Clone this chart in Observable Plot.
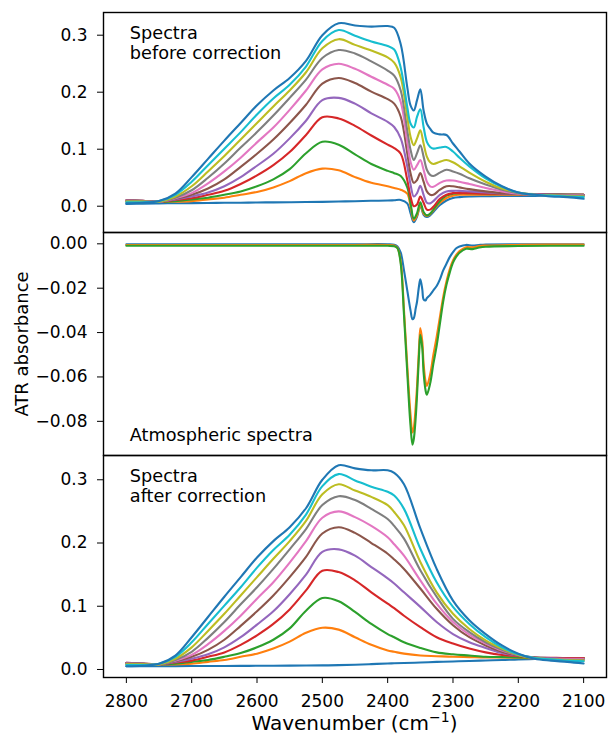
<!DOCTYPE html>
<html><head><meta charset="utf-8">
<script src="https://cdn.jsdelivr.net/npm/d3@7"></script>
<script src="https://cdn.jsdelivr.net/npm/@observablehq/plot@0.6"></script>
<style>
body{margin:0;background:#fff;}
#chart{position:relative;width:608px;height:735px;font-family:"DejaVu Sans";color:#000;}
#chart svg{position:absolute;left:0;overflow:visible;}
#xlabel{position:absolute;left:103px;width:503px;text-align:center;top:713px;font-size:20px;line-height:20px;white-space:nowrap;}
#xlabel sup{font-size:14px;line-height:0;vertical-align:8px;}
</style></head>
<body><div id="chart"></div>
<script>
// ---- wavenumber grids (cm^-1) ----
const wnAfter = [2800,2775,2750,2725,2700,2675,2650,2625,2600,2575,2550,2525,2500,2475,2450,2425,2400,2390,2375,2350,2325,2300,2275,2250,2225,2200,2175,2150,2125,2100];
const wnBefore = [2800,2775,2750,2725,2700,2675,2650,2625,2600,2575,2550,2525,2500,2475,2450,2425,2400,2390,2380,2370,2365,2360,2355,2350,2345,2340,2335,2330,2320,2310,2300,2290,2275,2250,2225,2200,2175,2150,2125,2100];
const wnAtm = [2800,2700,2600,2500,2450,2400,2390,2385,2380,2375,2370,2365,2362,2360,2357,2355,2352,2350,2347,2345,2342,2340,2335,2330,2325,2320,2315,2310,2305,2300,2295,2290,2280,2270,2260,2250,2200,2150,2100];

// ---- spectra before correction ----
const before0 = [0.004,0.0045,0.005,0.0052,0.0055,0.0057,0.006,0.0062,0.0065,0.0068,0.007,0.0073,0.0077,0.0082,0.0088,0.0095,0.010,0.0105,0.011,0.005,-0.012,-0.028,-0.018,0.001,-0.015,-0.019,-0.016,-0.010,0.002,0.010,0.0145,0.016,0.017,0.0175,0.018,0.018,0.018,0.0185,0.0185,0.019];
const before1 = [0.009,0.0085,0.008,0.008,0.009,0.012,0.015,0.020,0.025,0.033,0.044,0.058,0.066,0.063,0.051,0.041,0.035,0.032,0.029,0.022,0.000,-0.025,-0.016,0.003,-0.013,-0.017,-0.014,-0.007,0.006,0.0145,0.0185,0.020,0.020,0.020,0.020,0.020,0.020,0.020,0.020,0.020];
const before2 = [0.010,0.009,0.008,0.009,0.012,0.015,0.020,0.026,0.035,0.047,0.065,0.093,0.113,0.108,0.091,0.074,0.062,0.058,0.053,0.033,0.006,-0.022,-0.012,0.007,-0.010,-0.016,-0.013,-0.006,0.009,0.0185,0.022,0.023,0.023,0.0225,0.022,0.022,0.0215,0.021,0.0205,0.020];
const before3 = [0.0105,0.0095,0.008,0.011,0.014,0.020,0.027,0.039,0.054,0.072,0.095,0.125,0.156,0.154,0.141,0.124,0.108,0.102,0.092,0.046,0.017,0.000,0.003,0.017,0.006,-0.006,-0.006,-0.001,0.013,0.020,0.023,0.023,0.023,0.022,0.022,0.0215,0.021,0.0205,0.020,0.020];
const before4 = [0.0105,0.0095,0.008,0.012,0.017,0.024,0.035,0.051,0.071,0.092,0.119,0.150,0.186,0.190,0.180,0.163,0.148,0.139,0.119,0.070,0.038,0.017,0.023,0.036,0.020,0.006,0.005,0.009,0.020,0.026,0.027,0.027,0.026,0.024,0.0225,0.0215,0.021,0.0205,0.020,0.020];
const before5 = [0.010,0.0095,0.008,0.013,0.020,0.031,0.047,0.069,0.092,0.117,0.146,0.178,0.215,0.225,0.216,0.201,0.188,0.180,0.157,0.093,0.058,0.041,0.046,0.058,0.043,0.026,0.020,0.020,0.029,0.035,0.035,0.033,0.030,0.026,0.023,0.0215,0.020,0.020,0.020,0.020];
const before6 = [0.0095,0.009,0.008,0.014,0.023,0.040,0.061,0.085,0.112,0.138,0.169,0.203,0.240,0.250,0.241,0.227,0.213,0.206,0.183,0.113,0.078,0.064,0.072,0.081,0.064,0.043,0.035,0.034,0.041,0.045,0.045,0.043,0.039,0.032,0.026,0.022,0.020,0.019,0.019,0.019];
const before7 = [0.009,0.009,0.008,0.015,0.028,0.050,0.075,0.103,0.130,0.159,0.190,0.222,0.260,0.274,0.268,0.254,0.238,0.229,0.203,0.133,0.099,0.081,0.093,0.107,0.087,0.064,0.055,0.053,0.059,0.064,0.061,0.057,0.049,0.038,0.029,0.023,0.020,0.019,0.0185,0.0185];
const before8 = [0.008,0.008,0.008,0.017,0.035,0.061,0.088,0.117,0.146,0.175,0.203,0.235,0.277,0.293,0.283,0.273,0.261,0.252,0.226,0.157,0.122,0.107,0.119,0.133,0.110,0.087,0.077,0.074,0.078,0.081,0.077,0.070,0.059,0.043,0.031,0.024,0.020,0.019,0.018,0.017];
const before9 = [0.007,0.007,0.009,0.020,0.043,0.072,0.101,0.130,0.161,0.189,0.213,0.245,0.290,0.309,0.299,0.289,0.281,0.275,0.243,0.174,0.145,0.138,0.157,0.170,0.139,0.113,0.104,0.101,0.103,0.104,0.096,0.085,0.070,0.049,0.034,0.024,0.020,0.0185,0.017,0.016];
const before10 = [0.005,0.006,0.009,0.022,0.051,0.083,0.115,0.146,0.177,0.203,0.225,0.255,0.300,0.321,0.317,0.315,0.316,0.313,0.284,0.209,0.177,0.168,0.186,0.205,0.168,0.145,0.136,0.129,0.126,0.125,0.110,0.096,0.075,0.052,0.035,0.024,0.020,0.017,0.016,0.013];

// ---- atmospheric spectra ----
const atm0 = [-0.0002,-0.0002,-0.0002,-0.0002,-0.0002,-0.0002,-0.0004,-0.0012,-0.004,-0.012,-0.021,-0.030,-0.034,-0.0335,-0.029,-0.026,-0.019,-0.016,-0.0205,-0.025,-0.0255,-0.0245,-0.023,-0.021,-0.019,-0.016,-0.012,-0.009,-0.006,-0.0038,-0.002,-0.0012,-0.0005,-0.0008,-0.0005,-0.0003,-0.0002,-0.0002,-0.0002];
const atm1 = [-0.0005,-0.0005,-0.0005,-0.0005,-0.0005,-0.0005,-0.0007,-0.0018,-0.008,-0.030,-0.055,-0.077,-0.085,-0.083,-0.073,-0.064,-0.047,-0.038,-0.044,-0.054,-0.062,-0.064,-0.059,-0.050,-0.042,-0.033,-0.024,-0.017,-0.0115,-0.0075,-0.005,-0.0033,-0.0015,-0.0016,-0.001,-0.0008,-0.0005,-0.0003,-0.0003];
const atm2 = [-0.0009,-0.0009,-0.0009,-0.0009,-0.0009,-0.0009,-0.0011,-0.002,-0.009,-0.032,-0.058,-0.082,-0.0905,-0.088,-0.078,-0.068,-0.050,-0.041,-0.047,-0.058,-0.066,-0.068,-0.063,-0.054,-0.046,-0.036,-0.026,-0.0185,-0.013,-0.0085,-0.0058,-0.004,-0.0022,-0.0024,-0.0017,-0.0013,-0.001,-0.0009,-0.0009];

// ---- spectra after correction ----
const after0 = [0.005,0.005,0.0052,0.0053,0.0054,0.0055,0.0056,0.0057,0.0058,0.006,0.0061,0.0062,0.0064,0.0068,0.0075,0.0085,0.0095,0.0098,0.0103,0.011,0.012,0.0127,0.0135,0.0143,0.015,0.016,0.0165,0.017,0.0175,0.018];
const after1 = [0.009,0.0085,0.008,0.008,0.009,0.012,0.015,0.020,0.025,0.033,0.044,0.058,0.066,0.063,0.051,0.039,0.030,0.028,0.025,0.022,0.021,0.020,0.0195,0.019,0.019,0.0185,0.018,0.018,0.018,0.018];
const after2 = [0.010,0.009,0.008,0.009,0.012,0.015,0.020,0.026,0.035,0.047,0.065,0.093,0.113,0.108,0.091,0.072,0.056,0.051,0.043,0.034,0.027,0.024,0.022,0.020,0.0195,0.019,0.0185,0.018,0.018,0.018];
const after3 = [0.0105,0.0095,0.008,0.011,0.014,0.020,0.027,0.039,0.054,0.072,0.095,0.125,0.156,0.154,0.141,0.122,0.104,0.097,0.085,0.067,0.051,0.041,0.033,0.027,0.023,0.021,0.019,0.0185,0.018,0.018];
const after4 = [0.0105,0.0095,0.008,0.012,0.017,0.024,0.035,0.051,0.071,0.092,0.119,0.150,0.186,0.190,0.180,0.162,0.144,0.136,0.122,0.099,0.075,0.056,0.043,0.034,0.026,0.022,0.019,0.018,0.017,0.017];
const after5 = [0.010,0.0095,0.008,0.013,0.020,0.031,0.047,0.069,0.092,0.117,0.146,0.178,0.215,0.225,0.216,0.200,0.183,0.174,0.159,0.128,0.096,0.070,0.051,0.038,0.028,0.022,0.019,0.017,0.0165,0.016];
const after6 = [0.0095,0.009,0.008,0.014,0.023,0.040,0.061,0.085,0.112,0.138,0.169,0.203,0.240,0.250,0.241,0.227,0.209,0.198,0.180,0.141,0.104,0.075,0.055,0.041,0.030,0.023,0.018,0.0165,0.016,0.016];
const after7 = [0.009,0.009,0.008,0.015,0.028,0.050,0.075,0.103,0.130,0.159,0.190,0.222,0.260,0.274,0.268,0.254,0.238,0.227,0.207,0.157,0.115,0.080,0.059,0.043,0.031,0.023,0.018,0.016,0.015,0.015];
const after8 = [0.008,0.008,0.008,0.017,0.035,0.061,0.088,0.117,0.146,0.175,0.203,0.235,0.277,0.293,0.283,0.273,0.260,0.249,0.228,0.170,0.122,0.088,0.064,0.046,0.033,0.023,0.018,0.016,0.015,0.014];
const after9 = [0.007,0.007,0.009,0.020,0.043,0.072,0.101,0.130,0.161,0.189,0.213,0.245,0.290,0.309,0.299,0.289,0.281,0.275,0.254,0.191,0.138,0.099,0.072,0.051,0.035,0.024,0.018,0.016,0.014,0.013];
const after10 = [0.005,0.006,0.009,0.022,0.051,0.083,0.115,0.146,0.177,0.203,0.225,0.255,0.300,0.323,0.318,0.315,0.315,0.311,0.293,0.223,0.159,0.109,0.078,0.056,0.038,0.025,0.017,0.014,0.012,0.0095];

// ---- ticks and labels ----
const xTicks = [2800,2700,2600,2500,2400,2300,2200,2100];
const yTicksBefore = [0, 0.1, 0.2, 0.3];
const yTicksAtm = [0, -0.02, -0.04, -0.06, -0.08];
const yTicksAfter = [0, 0.1, 0.2, 0.3];
const labelBefore = "Spectra\nbefore correction";
const labelAtm = "Atmospheric spectra";
const labelAfter = "Spectra\nafter correction";
const yLabel = "ATR absorbance";

const COLORS = ["#1f77b4","#ff7f0e","#2ca02c","#d62728","#9467bd","#8c564b","#e377c2","#7f7f7f","#bcbd22","#17becf","#1f77b4"];
const X_DOMAIN = [2835, 2065];
const STYLE = {fontFamily: "DejaVu Sans", fontSize: "17px", background: "none", overflow: "visible", color: "black"};

function lines(wn, series) {
  return series.map((vals, i) => Plot.line(
    wn.map((w, j) => ({wn: w, v: vals[j]})),
    {x: "wn", y: "v", stroke: COLORS[i], strokeWidth: 2.1, curve: "catmull-rom"}
  ));
}
function note(txt, anchor, dy) {
  return Plot.text([txt], {text: d => d, frameAnchor: anchor, dx: 26.3, dy, textAnchor: "start",
    lineAnchor: "top", lineHeight: 1.13, fontSize: 17.7, fill: "black"});
}
const frame = () => Plot.frame({stroke: "black", strokeWidth: 1.4});

const p1 = Plot.plot({
  width: 608, height: 232, marginTop: 12, marginBottom: 0, marginLeft: 103, marginRight: 2,
  style: STYLE,
  x: {domain: X_DOMAIN, axis: null},
  y: {domain: [-0.0461, 0.3398], axis: null},
  marks: [
    ...lines(wnBefore, [before0,before1,before2,before3,before4,before5,before6,before7,before8,before9,before10]),
    Plot.axisY(yTicksBefore, {tickSize: 6, tickPadding: 10, tickFormat: d3.format(".1f"), label: null}),
    frame(),
    note(labelBefore, "top-left", 12.1)
  ]
});

const p2 = Plot.plot({
  width: 608, height: 223, marginTop: 0, marginBottom: 0, marginLeft: 103, marginRight: 2,
  style: STYLE,
  x: {domain: X_DOMAIN, axis: null},
  y: {domain: [-0.0954, 0.0051], axis: null},
  marks: [
    ...lines(wnAtm, [atm0, atm1, atm2]),
    Plot.axisY(yTicksAtm, {tickSize: 6, tickPadding: 10, tickFormat: d3.format(".2f"), label: null}),
    frame(),
    note(labelAtm, "bottom-left", -28.3),
    Plot.text([yLabel], {text: d => d, frameAnchor: "left", dx: -81, rotate: -90, textAnchor: "middle",
      lineAnchor: "middle", fontSize: 18, fill: "black"})
  ]
});

const p3 = Plot.plot({
  width: 608, height: 280, marginTop: 0, marginBottom: 58, marginLeft: 103, marginRight: 2,
  style: STYLE,
  x: {domain: X_DOMAIN, axis: null},
  y: {domain: [-0.0127, 0.3384], axis: null},
  marks: [
    ...lines(wnAfter, [after0,after1,after2,after3,after4,after5,after6,after7,after8,after9,after10]),
    Plot.axisY(yTicksAfter, {tickSize: 6, tickPadding: 10, tickFormat: d3.format(".1f"), label: null}),
    Plot.axisX(xTicks, {tickSize: 6, tickPadding: 11, tickFormat: d3.format("d"), label: null}),
    frame(),
    note(labelAfter, "top-left", 12.2)
  ]
});

const chart = document.getElementById("chart");
[[p1, 0], [p2, 232], [p3, 455]].forEach(([svg, top]) => {
  svg.style.top = top + "px";
  chart.appendChild(svg);
});
const xl = document.createElement("div");
xl.id = "xlabel";
xl.innerHTML = "Wavenumber (cm<sup>\u22121</sup>)";
chart.appendChild(xl);
</script></body></html>
